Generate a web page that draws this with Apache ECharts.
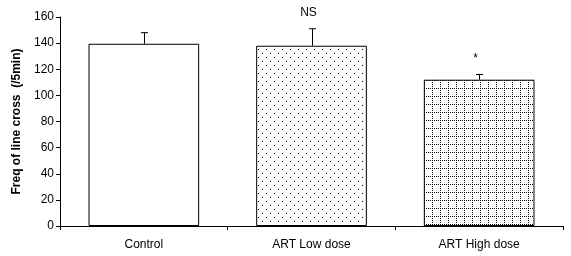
<!DOCTYPE html>
<html>
<head>
<meta charset="utf-8">
<script src="https://cdn.jsdelivr.net/npm/echarts@6/dist/echarts.min.js"></script>
<style>
  html, body { margin: 0; padding: 0; background: #fff; }
  #chart { width: 571px; height: 256px; }
</style>
</head>
<body>
<div id="chart"></div>
<script>
// data
var categories = ['Control', 'ART Low dose', 'ART High dose'];
var means = [139.5, 138, 112];
var errors = [8.5, 13, 4];
var sigLabels = ['', 'NS', '*'];
var yTicks = { min: 0, max: 160, interval: 20 };

// fill patterns (dots / dotted grid)
function dotPattern() {
  var c = document.createElement('canvas');
  c.width = 8; c.height = 8;
  var ctx = c.getContext('2d');
  ctx.fillStyle = '#fff'; ctx.fillRect(0, 0, 8, 8);
  ctx.fillStyle = '#000';
  ctx.fillRect(2, 1, 1, 1);
  ctx.fillRect(6, 5, 1, 1);
  return c;
}
function gridPattern() {
  var c = document.createElement('canvas');
  c.width = 8; c.height = 8;
  var ctx = c.getContext('2d');
  ctx.fillStyle = '#fff'; ctx.fillRect(0, 0, 8, 8);
  ctx.fillStyle = '#000';
  for (var i = 0; i < 8; i += 2) {
    ctx.fillRect(i, 0, 1, 1);
    ctx.fillRect(0, i, 1, 1);
  }
  return c;
}
var fills = [
  '#fff',
  { image: dotPattern(), repeat: 'repeat' },
  { image: gridPattern(), repeat: 'repeat' }
];

var chart = echarts.init(document.getElementById('chart'));
var font = 'Liberation Sans, Arial, sans-serif';

chart.setOption({
  backgroundColor: '#fff',
  animation: false,
  grid: { left: 60, right: 8, top: 17, bottom: 30 },
  xAxis: {
    type: 'category',
    data: categories,
    axisLine: { lineStyle: { color: '#000', width: 1 } },
    axisTick: { show: true, length: 4, lineStyle: { color: '#000' } },
    axisLabel: { color: '#000', fontFamily: font, fontSize: 12, margin: 13 }
  },
  yAxis: {
    type: 'value',
    min: yTicks.min,
    max: yTicks.max,
    interval: yTicks.interval,
    name: 'Freq of line cross  (/5min)',
    nameLocation: 'middle',
    nameGap: 37,
    nameTextStyle: { color: '#000', fontFamily: font, fontSize: 12, fontWeight: 'bold' },
    axisLine: { show: true, lineStyle: { color: '#000', width: 1 } },
    axisTick: { show: true, length: 4, lineStyle: { color: '#000' } },
    axisLabel: { color: '#000', fontFamily: font, fontSize: 12, margin: 6 },
    splitLine: { show: false }
  },
  series: [
    {
      type: 'bar',
      barWidth: '66%',
      data: means.map(function (v, i) {
        return { value: v, itemStyle: { color: fills[i] } };
      }),
      itemStyle: { borderColor: '#000', borderWidth: 1 }
    },
    {
      type: 'custom',
      data: means.map(function (v, i) { return [i, v, v + errors[i]]; }),
      renderItem: function (params, api) {
        var i = api.value(0);
        var base = api.coord([i, api.value(1)]);
        var top = api.coord([i, api.value(2)]);
        var x = Math.round(base[0]) + 0.5;
        var children = [
          { type: 'line', shape: { x1: x, y1: base[1], x2: x, y2: top[1] },
            style: { stroke: '#000', lineWidth: 1 } },
          { type: 'line', shape: { x1: x - 3.5, y1: top[1], x2: x + 3.5, y2: top[1] },
            style: { stroke: '#000', lineWidth: 1 } }
        ];
        if (sigLabels[i]) {
          children.push({
            type: 'text',
            style: {
              text: sigLabels[i], x: x - 4, y: top[1] - 10,
              textAlign: 'center', textVerticalAlign: 'bottom',
              fill: '#000', font: '12px ' + font
            }
          });
        }
        return { type: 'group', children: children };
      },
      z: 5
    }
  ]
});
</script>
</body>
</html>
